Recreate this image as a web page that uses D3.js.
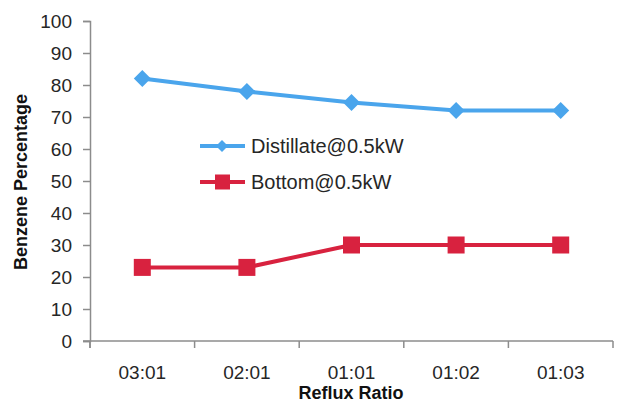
<!DOCTYPE html>
<html>
<head>
<meta charset="utf-8">
<script src="https://cdn.jsdelivr.net/npm/d3@7"></script>
<style>
  html, body { margin: 0; padding: 0; background: #fff; }
  svg { display: block; }
  text { font-family: "Liberation Sans", Arial, sans-serif; }
</style>
</head>
<body>
<svg id="chart" width="635" height="403"></svg>
<script>
// Reflux ratio categories and benzene percentages
const categories = ["03:01", "02:01", "01:01", "01:02", "01:03"];
const distillate = [82, 78, 74.5, 72, 72];
const bottom = [23, 23, 30, 30, 30];
const yTicks = [0, 10, 20, 30, 40, 50, 60, 70, 80, 90, 100];
const seriesNames = ["Distillate@0.5kW", "Bottom@0.5kW"];

const svg = d3.select("#chart");
const plotLeft = 90, plotRight = 613, plotTop = 21, plotBottom = 341;
const axisColor = "#8c8c8c";
const textColor = "#262626";
const blue = "#4aa5ec";
const red = "#d8223f";

const x = d3.scaleBand().domain(categories).range([plotLeft, plotRight]).padding(0);
const y = d3.scaleLinear().domain([0, 100]).range([plotBottom, plotTop]);

// Y axis
const yAxis = svg.append("g").attr("transform", `translate(${plotLeft},0)`)
  .call(d3.axisLeft(y).tickValues(yTicks).tickSize(7).tickPadding(11));
yAxis.select(".domain").attr("stroke", axisColor).attr("stroke-width", 1.5);
yAxis.selectAll(".tick line").attr("stroke", axisColor).attr("stroke-width", 1.5);
yAxis.selectAll(".tick text").attr("font-size", 19).attr("fill", textColor)
  .attr("font-family", "'Liberation Sans', Arial, sans-serif");
yAxis.append("line").attr("x1", 0).attr("x2", 0).attr("y1", plotBottom).attr("y2", plotBottom + 7)
  .attr("stroke", axisColor).attr("stroke-width", 1.5);

// X axis with ticks at category boundaries
const xAxisG = svg.append("g").attr("transform", `translate(0,${plotBottom})`);
xAxisG.append("line").attr("x1", plotLeft - 7).attr("x2", plotRight)
  .attr("stroke", axisColor).attr("stroke-width", 1.5);
const bounds = categories.map(c => x(c)).concat([x(categories[categories.length - 1]) + x.bandwidth()]);
xAxisG.selectAll("line.tk").data(bounds).enter().append("line").attr("class", "tk")
  .attr("x1", d => d).attr("x2", d => d).attr("y1", 0).attr("y2", 7)
  .attr("stroke", axisColor).attr("stroke-width", 1.5);
xAxisG.selectAll("text").data(categories).enter().append("text")
  .attr("x", d => x(d) + x.bandwidth() / 2).attr("y", 38)
  .attr("text-anchor", "middle").attr("font-size", 19).attr("fill", textColor)
  .text(d => d);

// Axis titles
svg.append("text").attr("x", 351).attr("y", 399).attr("text-anchor", "middle")
  .attr("font-size", 18).attr("font-weight", "bold").attr("fill", "#111")
  .text("Reflux Ratio");
svg.append("text").attr("transform", "translate(27,182) rotate(-90)")
  .attr("text-anchor", "middle").attr("font-size", 18).attr("font-weight", "bold").attr("fill", "#111")
  .text("Benzene Percentage");

const cx = d => x(d) + x.bandwidth() / 2;
const line = d3.line().x((d, i) => cx(categories[i])).y(d => y(d));

// Distillate series
svg.append("path").datum(distillate).attr("d", line)
  .attr("fill", "none").attr("stroke", blue).attr("stroke-width", 4).attr("stroke-linejoin", "round");
const diamond = (s) => `M0,${-s}L${s},0L0,${s}L${-s},0Z`;
svg.selectAll("path.dm").data(distillate).enter().append("path").attr("class", "dm")
  .attr("transform", (d, i) => `translate(${cx(categories[i])},${y(d)})`)
  .attr("d", diamond(8.5)).attr("fill", blue);

// Bottom series
svg.append("path").datum(bottom).attr("d", line)
  .attr("fill", "none").attr("stroke", red).attr("stroke-width", 4).attr("stroke-linejoin", "round");
svg.selectAll("rect.sq").data(bottom).enter().append("rect").attr("class", "sq")
  .attr("x", (d, i) => cx(categories[i]) - 8.5).attr("y", d => y(d) - 8.5)
  .attr("width", 17).attr("height", 17).attr("fill", red);

// Legend
const legend = svg.append("g");
const legendRows = [
  { name: seriesNames[0], color: blue, y: 146, shape: "diamond" },
  { name: seriesNames[1], color: red, y: 182, shape: "square" }
];
legendRows.forEach(r => {
  legend.append("line").attr("x1", 200).attr("x2", 245).attr("y1", r.y).attr("y2", r.y)
    .attr("stroke", r.color).attr("stroke-width", 4);
  if (r.shape === "diamond") {
    legend.append("path").attr("transform", `translate(222,${r.y})`).attr("d", diamond(6)).attr("fill", r.color);
  } else {
    legend.append("rect").attr("x", 215).attr("y", r.y - 7.5).attr("width", 15).attr("height", 15).attr("fill", r.color);
  }
  legend.append("text").attr("x", 251).attr("y", r.y + 7).attr("font-size", 20).attr("fill", textColor)
    .text(r.name);
});
</script>
</body>
</html>
